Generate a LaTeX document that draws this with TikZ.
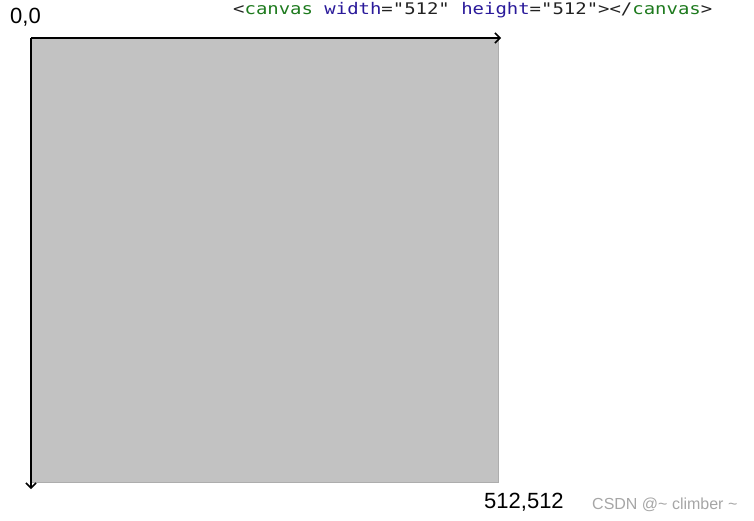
\documentclass[tikz,border=0pt]{standalone}
\usepackage{fontspec}
\setmainfont{Liberation Sans}
\newfontfamily\codefont{DejaVu Sans Mono}
\usetikzlibrary{arrows.meta}
\definecolor{canvasgrey}{HTML}{C2C2C2}
\definecolor{edgegrey}{HTML}{ADADAD}
\definecolor{taggreen}{HTML}{1E7A1E}
\definecolor{attrblue}{HTML}{2A1A9A}
\definecolor{markgrey}{HTML}{A6A6A6}
\definecolor{codeblack}{HTML}{222222}
\tikzset{
  axis/.style={line width=1.5pt,-{Straight Barb[length=5pt,width=10pt,line width=1.5pt]}},
  lbl/.style={inner sep=0pt,anchor=base west,font=\fontsize{22}{25}\selectfont},
  wmark/.style={inner sep=0pt,anchor=base west,text=markgrey,font=\fontsize{16}{18}\selectfont},
  codetext/.style={inner sep=0pt,anchor=base west,text=codeblack,font=\codefont\fontsize{16}{18}\selectfont}
}
\begin{document}
\begin{tikzpicture}[x=1pt,y=-1pt]
\useasboundingbox (0,0) rectangle (754,520);
\fill[canvasgrey] (31,38) rectangle (499,482);
\draw[edgegrey,line width=1pt] (498.5,38) -- (498.5,482.5) -- (31,482.5);
\coordinate (o) at (31,38);
\coordinate (xe) at (501,38);
\coordinate (ye) at (31,489);
\draw[axis] (o) -- (xe);
\draw[axis] (o) -- (ye);
\node[lbl] (origin) at (10,23) {0,0};
\node[lbl] (corner) at (484,508) {512,512};
\node[wmark] (wm) at (592,509) {CSDN @\textasciitilde{} climber \textasciitilde};
\node[codetext] (tag) at (233,14) {\scalebox{1.184}[1]{<\textcolor{taggreen}{canvas} \textcolor{attrblue}{width}="512" \textcolor{attrblue}{height}="512"></\textcolor{taggreen}{canvas}>}};
\end{tikzpicture}
\end{document}
